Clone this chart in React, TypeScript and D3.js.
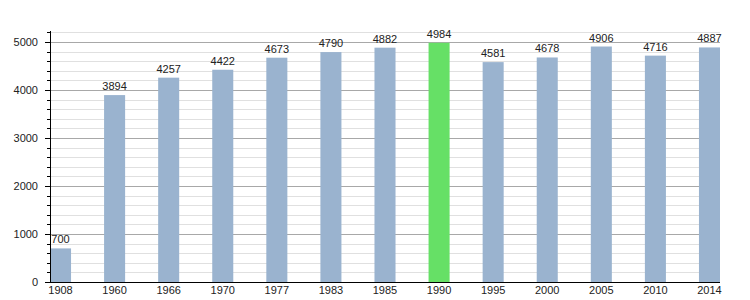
import React from "react";
import * as d3 from "d3";

const years = ["1908", "1960", "1966", "1970", "1977", "1983", "1985", "1990", "1995", "2000", "2005", "2010", "2014"];
const population = [700, 3894, 4257, 4422, 4673, 4790, 4882, 4984, 4581, 4678, 4906, 4716, 4887];
const highlightYear = "1990";
const yTicks = [0, 1000, 2000, 3000, 4000, 5000];

const W = 750;
const H = 300;
const left = 50;
const right = 720;
const top = 31;
const bottom = 282;

export default function App() {
  const x = d3.scaleBand<string>().domain(years).range([left, right]).paddingInner(0.611).paddingOuter(0);
  const y = d3.scaleLinear().domain([0, 5200]).range([bottom, bottom - 5.2 * 48]);
  const minor = d3.range(0, 5201, 200);
  const font = "'Liberation Sans', Arial, sans-serif";
  return (
    <svg width={W} height={H} style={{ position: "absolute", left: 0, top: 0, background: "#fff" }} fontFamily={font}>
      {minor.map((v) => (
        <line key={"g" + v} x1={left} x2={right} y1={Math.round(y(v)) + 0.5} y2={Math.round(y(v)) + 0.5}
          stroke={v % 1000 === 0 ? "#a8a8a8" : "#e0e0e0"} strokeWidth={1} />
      ))}
      {years.map((yr, i) => (
        <rect key={yr} x={x(yr)} y={y(population[i])} width={x.bandwidth()} height={bottom - y(population[i])}
          fill={yr === highlightYear ? "#66e066" : "#9ab3cf"} />
      ))}
      {years.map((yr, i) => (
        <text key={"v" + yr} x={(x(yr) as number) + x.bandwidth() / 2} y={y(population[i]) - 5}
          textAnchor="middle" fontSize={11} fill="#222">{population[i]}</text>
      ))}
      {years.map((yr) => (
        <text key={"x" + yr} x={(x(yr) as number) + x.bandwidth() / 2} y={294}
          textAnchor="middle" fontSize={11} fill="#222">{yr}</text>
      ))}
      {minor.map((v) => (
        <line key={"t" + v} x1={v % 1000 === 0 ? left - 5 : left - 3} x2={left} y1={Math.round(y(v)) + 0.5} y2={Math.round(y(v)) + 0.5}
          stroke="#000" strokeWidth={1} />
      ))}
      {yTicks.map((v) => (
        <text key={"y" + v} x={left - 12} y={y(v) + 4} textAnchor="end" fontSize={11} fill="#222">{v}</text>
      ))}
      <line x1={left + 0.5} x2={left + 0.5} y1={top} y2={bottom + 1} stroke="#000" strokeWidth={1} />
      <line x1={left} x2={right} y1={bottom + 0.5} y2={bottom + 0.5} stroke="#000" strokeWidth={1.2} />
    </svg>
  );
}
